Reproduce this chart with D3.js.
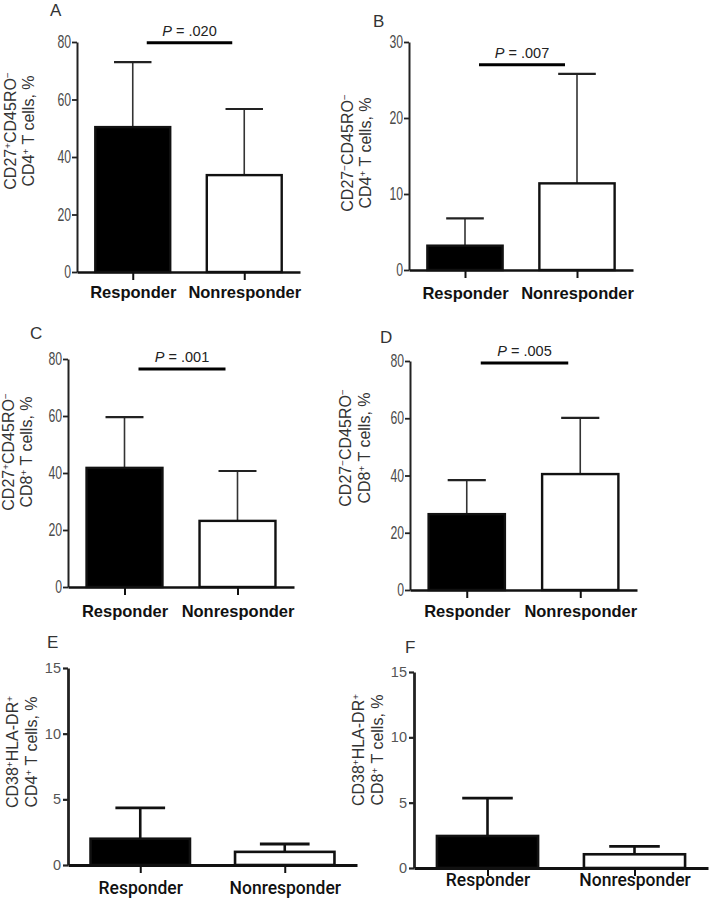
<!DOCTYPE html>
<html>
<head>
<meta charset="utf-8">
<script src="https://cdn.jsdelivr.net/npm/d3@7"></script>
<style>
  html, body { margin: 0; padding: 0; background: #fff; }
  svg { display: block; font-family: "Liberation Sans", Arial, Helvetica, sans-serif; }
</style>
</head>
<body>
<script>
// ---------------- DATA ----------------
const categories = ["Responder", "Nonresponder"];
const panelLetters = ["A", "B", "C", "D", "E", "F"];
// means (bar heights) and SD (error bar above mean)
const responderMean    = [50.4, 3.2, 41.8, 26.5, 2.0, 2.45];
const responderSD      = [22.6, 3.6, 17.8, 11.9, 2.35, 2.9];
const nonresponderMean = [33.7, 11.4, 23.2, 40.5, 1.0, 1.05];
const nonresponderSD   = [23.0, 14.4, 17.5, 19.6, 0.6, 0.6];
const yMaxValues = [80, 30, 80, 80, 15, 15];
const ticks80 = [0, 20, 40, 60, 80];
const ticks30 = [0, 10, 20, 30];
const ticks15 = [0, 5, 10, 15];
const tickSets = [ticks80, ticks30, ticks80, ticks80, ticks15, ticks15];
const pValues = [".020", ".007", ".001", ".005", null, null];
const yLabelLine1 = ["CD27^+CD45RO^−", "CD27^−CD45RO^−", "CD27^+CD45RO^−", "CD27^−CD45RO^−", "CD38^+HLA-DR^+", "CD38^+HLA-DR^+"];
const yLabelLine2 = ["CD4^+ T cells, %", "CD4^+ T cells, %", "CD8^+ T cells, %", "CD8^+ T cells, %", "CD4^+ T cells, %", "CD8^+ T cells, %"];

// ---------------- LAYOUT ----------------
const layout = [
  {ax: 77,  yTop: 42,  y0: 272, xEnd: 300, lx: 50,  ly: 16,  labCy: 131, labX1: 15.5,  labX2: 33.5,  catY: 298, sig: 79.7, style: "top"},
  {ax: 409, yTop: 42,  y0: 270, xEnd: 633, lx: 373, ly: 27,  labCy: 153, labX1: 352.5, labX2: 370.5, catY: 299, sig: 27.0, style: "top"},
  {ax: 68,  yTop: 359, y0: 587, xEnd: 294, lx: 30,  ly: 339, labCy: 452, labX1: 13.5,  labX2: 32,    catY: 617, sig: 76.5, style: "top"},
  {ax: 410, yTop: 361, y0: 590, xEnd: 637, lx: 380, ly: 343, labCy: 448, labX1: 350.5, labX2: 370,   catY: 617, sig: 79.3, style: "top"},
  {ax: 68,  yTop: 668, y0: 865, xEnd: 357, lx: 47,  ly: 648, labCy: 752, labX1: 17.5,  labX2: 36.5,  catY: 894, sig: null, style: "bottom"},
  {ax: 414, yTop: 672, y0: 868, xEnd: 708, lx: 405, ly: 653, labCy: 750, labX1: 363.5, labX2: 382.5, catY: 886, sig: null, style: "bottom"}
];

const svg = d3.select("body").append("svg").attr("width", 709).attr("height", 900);

function addSupText(sel, str) {
  const parts = str.split(/\^(.)/);
  parts.forEach((p, k) => {
    if (p === "") return;
    if (k % 2 === 1) {
      sel.append("tspan").attr("baseline-shift", "super").attr("font-size", "62%").text(p);
    } else {
      sel.append("tspan").text(p);
    }
  });
}

panelLetters.forEach((letter, i) => {
  const L = layout[i];
  const isTop = L.style === "top";
  const g = svg.append("g");
  const y = d3.scaleLinear().domain([0, yMaxValues[i]]).range([L.y0, L.yTop]);
  const x = d3.scalePoint().domain(categories).range([L.ax, L.xEnd]).padding(0.5);
  const bw = (L.xEnd - L.ax) * (isTop ? 0.336 : 0.344);
  const capHalf = bw * 0.25;

  const rows = categories.map((c, k) => ({
    cat: c,
    mean: k === 0 ? responderMean[i] : nonresponderMean[i],
    sd: k === 0 ? responderSD[i] : nonresponderSD[i],
    fill: k === 0 ? "#000" : "#fff"
  }));

  // error bars
  const errW = isTop ? 1.6 : 2.6;
  const capW = isTop ? 2.2 : 2.8;
  g.selectAll(".err").data(rows).join("line")
    .attr("x1", d => x(d.cat)).attr("x2", d => x(d.cat))
    .attr("y1", d => y(d.mean)).attr("y2", d => y(d.mean + d.sd))
    .attr("stroke", isTop ? "#333" : "#111").attr("stroke-width", errW);
  g.selectAll(".cap").data(rows).join("line")
    .attr("x1", d => x(d.cat) - capHalf).attr("x2", d => x(d.cat) + capHalf)
    .attr("y1", d => y(d.mean + d.sd)).attr("y2", d => y(d.mean + d.sd))
    .attr("stroke", isTop ? "#222" : "#111").attr("stroke-width", capW);

  // bars
  g.selectAll(".bar").data(rows).join("rect")
    .attr("x", d => x(d.cat) - bw / 2)
    .attr("y", d => y(d.mean))
    .attr("width", bw)
    .attr("height", d => y(0) - y(d.mean))
    .attr("fill", d => d.fill)
    .attr("stroke", "#111")
    .attr("stroke-width", isTop ? 2.4 : 2.6);

  // y axis
  const yAxis = g.append("g").attr("transform", `translate(${L.ax},0)`)
    .call(d3.axisLeft(y).tickValues(tickSets[i]).tickSize(5).tickSizeOuter(0).tickFormat(d3.format("d")));
  yAxis.select(".domain").attr("stroke", "#222").attr("stroke-width", isTop ? 2 : 2.8);
  yAxis.selectAll(".tick line").attr("stroke", "#222").attr("stroke-width", isTop ? 1.8 : 2.2);
  if (isTop) {
    yAxis.selectAll(".tick text")
      .attr("x", 0)
      .attr("transform", "translate(-6,0) scale(0.7,1)")
      .attr("font-size", 17.5).attr("fill", "#4a4a4a")
      .attr("font-family", "'Liberation Sans', Arial, sans-serif");
  } else {
    yAxis.selectAll(".tick text")
      .attr("x", -7)
      .attr("font-size", 14.5).attr("fill", "#555")
      .attr("font-family", "'Liberation Sans', Arial, sans-serif");
  }

  // x axis
  const xAxis = g.append("g").attr("transform", `translate(0,${y(0)})`)
    .call(d3.axisBottom(x).tickSize(8).tickSizeOuter(0));
  xAxis.select(".domain").attr("stroke", "#111").attr("stroke-width", isTop ? 2.6 : 2.8);
  xAxis.selectAll(".tick line").attr("stroke", "#111").attr("stroke-width", 2);
  xAxis.selectAll(".tick text")
    .attr("y", L.catY - y(0)).attr("dy", 0)
    .attr("fill", "#111")
    .attr("font-size", isTop ? 16.5 : 17.5)
    .attr("font-weight", isTop ? "bold" : 500)
    .attr("font-family", isTop ? "'Liberation Sans', Arial, sans-serif" : "Roboto, 'Liberation Sans', sans-serif");

  // y label (two lines)
  [[yLabelLine1[i], L.labX1], [yLabelLine2[i], L.labX2]].forEach(([txt, lx]) => {
    const t = g.append("text")
      .attr("transform", `translate(${lx},${L.labCy}) rotate(-90)`)
      .attr("text-anchor", "middle")
      .attr("font-size", 16)
      .attr("fill", "#333");
    addSupText(t, txt);
  });

  // panel letter
  g.append("text").attr("x", L.lx).attr("y", L.ly)
    .attr("font-size", 17).attr("fill", "#333").text(letter);

  // significance bar
  if (pValues[i]) {
    const x1 = x(categories[0]) + 14, x2 = x(categories[1]) - 12;
    const yb = y(L.sig);
    g.append("line").attr("x1", x1).attr("x2", x2).attr("y1", yb).attr("y2", yb)
      .attr("stroke", "#000").attr("stroke-width", 3);
    const t = g.append("text").attr("x", (x1 + x2) / 2).attr("y", yb - 7)
      .attr("text-anchor", "middle").attr("font-size", 14.5).attr("fill", "#222");
    t.append("tspan").attr("font-style", "italic").text("P");
    t.append("tspan").text(" = " + pValues[i]);
  }
});
</script>
</body>
</html>
